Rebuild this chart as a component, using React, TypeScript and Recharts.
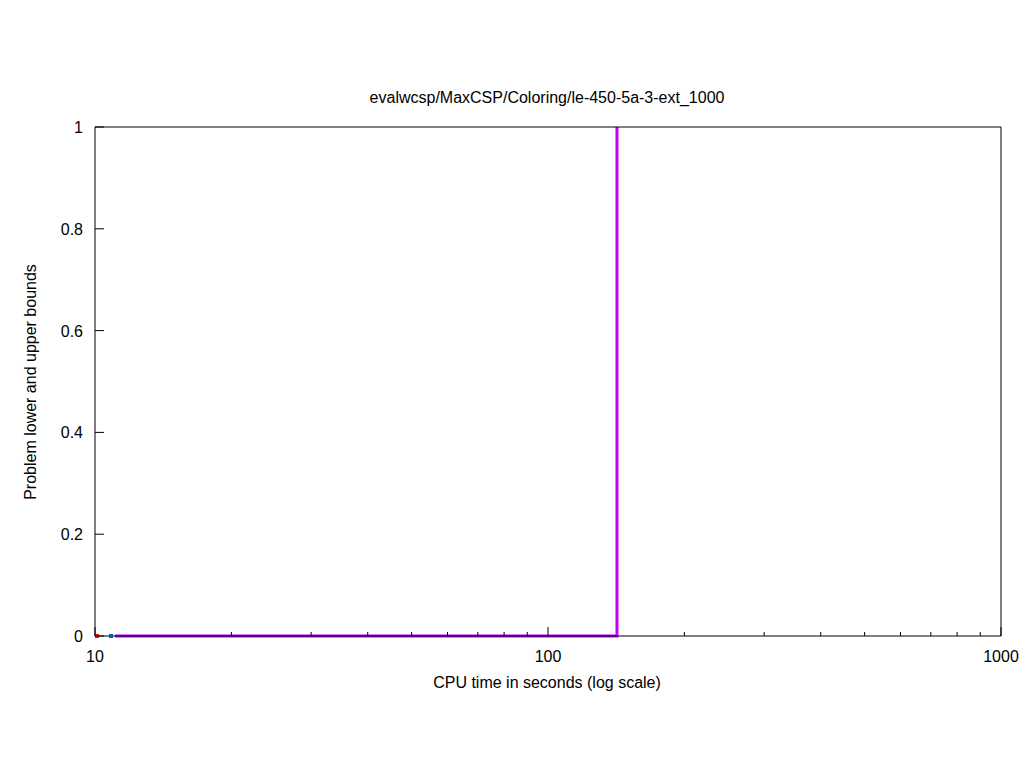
import React from "react";
import { ComposedChart, Line, Scatter, XAxis, YAxis } from "recharts";

const title = "evalwcsp/MaxCSP/Coloring/le-450-5a-3-ext_1000";
const xLabel = "CPU time in seconds (log scale)";
const yLabel = "Problem lower and upper bounds";

const xMajorTicks = [10, 100, 1000];
const xTicks = [10, 20, 30, 40, 50, 60, 70, 80, 90, 100, 200, 300, 400, 500, 600, 700, 800, 900, 1000];
const yTicks = [0, 0.2, 0.4, 0.6, 0.8, 1];

const boundX = [11.07, 142, 142];
const boundY = [0, 0, 1];
const boundData = boundX.map((x, i) => ({ x, y: boundY[i] }));

const redPoint = [{ x: 10.1, y: 0 }];
const bluePoint = [{ x: 10.85, y: 0 }];

const FONT = "'Liberation Sans', Arial, sans-serif";

const BottomTick = (props: any) => {
  const { x, y, payload } = props;
  const major = xMajorTicks.includes(payload.value);
  return (
    <g>
      <line x1={x} x2={x} y1={y} y2={y - (major ? 9 : 4)} stroke="#000" strokeWidth={1} />
      {major && (
        <text x={x} y={y + 26} textAnchor="middle" fontSize={16} fontFamily={FONT} fill="#000">
          {payload.value}
        </text>
      )}
    </g>
  );
};

const TopTick = (props: any) => {
  const { x, y, payload } = props;
  const major = xMajorTicks.includes(payload.value);
  return <line x1={x} x2={x} y1={y} y2={y + (major ? 9 : 4)} stroke="#000" strokeWidth={1} />;
};

const LeftTick = (props: any) => {
  const { x, y, payload } = props;
  return (
    <g>
      <line x1={x} x2={x + 9} y1={y} y2={y} stroke="#000" strokeWidth={1} />
      <text x={x - 12} y={y + 6} textAnchor="end" fontSize={16} fontFamily={FONT} fill="#000">
        {String(payload.value)}
      </text>
    </g>
  );
};

const RightTick = (props: any) => {
  const { x, y } = props;
  return <line x1={x} x2={x - 9} y1={y} y2={y} stroke="#000" strokeWidth={1} />;
};

const Square = (color: string) => (props: any) => {
  const { cx, cy } = props;
  return <rect x={cx - 2} y={cy - 2} width={4} height={4} fill={color} />;
};

export default function App() {
  return (
    <div style={{ position: "absolute", left: 0, top: 0, width: 1024, height: 768, background: "#fff" }}>
      <ComposedChart
        width={1024}
        height={768}
        margin={{ top: 126, right: 22, bottom: 131, left: 94 }}
        style={{ fontFamily: FONT }}
      >
        <text x={547} y={103} textAnchor="middle" fontSize={16} fontFamily={FONT} fill="#000">
          {title}
        </text>
        <text x={547} y={688} textAnchor="middle" fontSize={16} fontFamily={FONT} fill="#000">
          {xLabel}
        </text>
        <text
          x={36}
          y={382}
          textAnchor="middle"
          fontSize={16}
          fontFamily={FONT}
          fill="#000"
          transform="rotate(-90 36 382)"
        >
          {yLabel}
        </text>
        <XAxis
          xAxisId="b"
          dataKey="x"
          type="number"
          scale="log"
          domain={[10, 1000]}
          ticks={xTicks}
          height={1}
          tickSize={0}
          tickMargin={0}
          tickLine={false}
          axisLine={{ stroke: "#000", strokeWidth: 1 }}
          tick={<BottomTick />}
          interval={0}
        />
        <XAxis
          xAxisId="t"
          orientation="top"
          dataKey="x"
          type="number"
          scale="log"
          domain={[10, 1000]}
          ticks={xTicks}
          height={1}
          tickSize={0}
          tickMargin={0}
          tickLine={false}
          axisLine={{ stroke: "#000", strokeWidth: 1 }}
          tick={<TopTick />}
          interval={0}
        />
        <YAxis
          yAxisId="l"
          type="number"
          domain={[0, 1]}
          ticks={yTicks}
          width={1}
          tickSize={0}
          tickMargin={0}
          tickLine={false}
          axisLine={{ stroke: "#000", strokeWidth: 1 }}
          tick={<LeftTick />}
          interval={0}
        />
        <YAxis
          yAxisId="r"
          orientation="right"
          type="number"
          domain={[0, 1]}
          ticks={yTicks}
          width={1}
          tickSize={0}
          tickMargin={0}
          tickLine={false}
          axisLine={{ stroke: "#000", strokeWidth: 1 }}
          tick={<RightTick />}
          interval={0}
        />
        <Line
          xAxisId="b"
          yAxisId="l"
          data={boundData}
          dataKey="y"
          type="linear"
          stroke="#c000ff"
          strokeWidth={3}
          dot={false}
          isAnimationActive={false}
        />
        <Scatter
          xAxisId="b"
          yAxisId="l"
          data={redPoint}
          dataKey="y"
          shape={Square("#e51e10")}
          isAnimationActive={false}
        />
        <Scatter
          xAxisId="b"
          yAxisId="l"
          data={bluePoint}
          dataKey="y"
          shape={Square("#0060ad")}
          isAnimationActive={false}
        />
      </ComposedChart>
    </div>
  );
}
